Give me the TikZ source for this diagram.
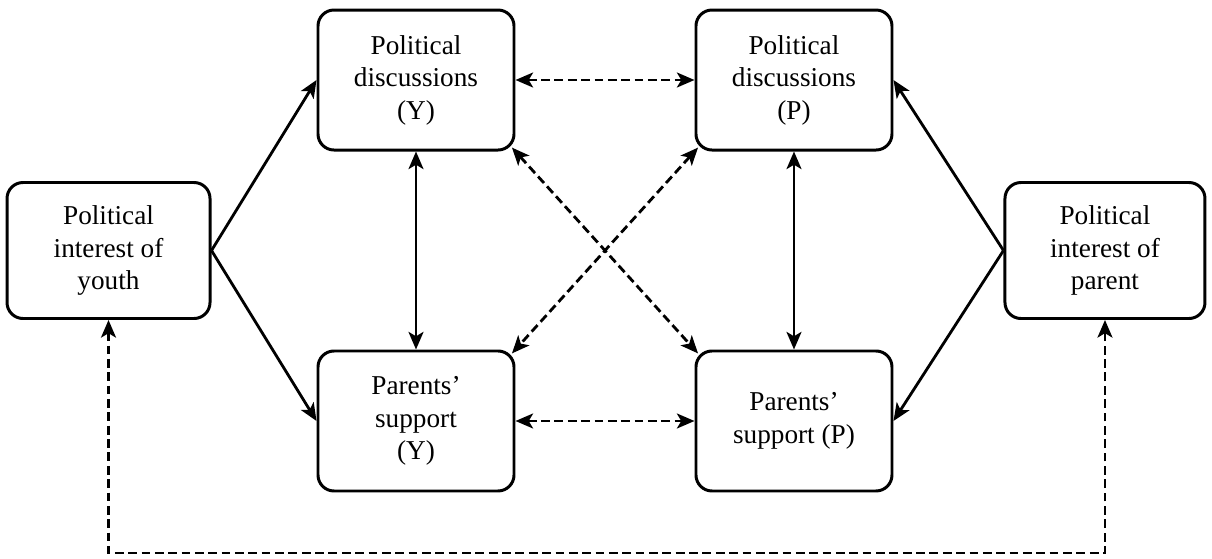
\documentclass[tikz,border=0pt]{standalone}
\usepackage{fontspec}
\setmainfont{Liberation Serif}
\newfontfamily\boxfont{Liberation Serif}
\usetikzlibrary{arrows.meta,positioning,calc}

\begin{document}
\begin{tikzpicture}[
  box/.style={draw, line width=1.7pt, rounded corners=0.32cm,
              minimum width=3.92cm, minimum height=2.8cm,
              align=center, font=\boxfont\fontsize{15.5}{18.5}\selectfont},
  link/.style={line width=1.6pt},
  dlink/.style={line width=1.6pt, dash pattern=on 5pt off 2.6pt},
  >={Stealth[length=10pt,width=8.5pt,inset=2.5pt]}
]
\useasboundingbox (0,0) rectangle (24.24,-11.16);
\node[box] (discY) at (8.32,-1.6) {Political\\discussions\\(Y)};
\node[box] (discP) [right=3.58cm of discY] {Political\\discussions\\(P)};
\node[box] (suppY) [below=3.96cm of discY] {Parents’\\support\\(Y)};
\node[box] (suppP) [below=3.96cm of discP] {Parents’\\support (P)};

% interest boxes sit halfway between the rows
\coordinate (midY) at ($(discY.west)!0.5!(suppY.west)$);
\coordinate (midP) at ($(discP.east)!0.5!(suppP.east)$);
\node[box, minimum width=4.06cm, minimum height=2.72cm] (intY) [left=2.1cm of midY] {Political\\interest of\\youth};
\node[box, minimum width=4.0cm, minimum height=2.72cm] (intP) [right=2.2cm of midP] {Political\\interest of\\parent};
\coordinate (low) at (0,-11.06);

\draw[link,->] (intY.east) -- (discY.west);
\draw[link,->] (intY.east) -- (suppY.west);
\draw[link,->] (intP.west) -- (discP.east);
\draw[link,->] (intP.west) -- (suppP.east);
\draw[link,<->] (discY) -- (suppY);
\draw[link,<->] (discP) -- (suppP);
\draw[dlink,<->] (discY) -- (discP);
\draw[dlink,<->] (suppY) -- (suppP);
\draw[dlink,<->, shorten <=-3pt, shorten >=-3pt] (discY.south east) -- (suppP.north west);
\draw[dlink,<->, shorten <=-3pt, shorten >=-3pt] (discP.south west) -- (suppY.north east);
\draw[dlink,<->] (intY.south) -- (intY.south |- low) -| (intP.south);
\end{tikzpicture}
\end{document}
